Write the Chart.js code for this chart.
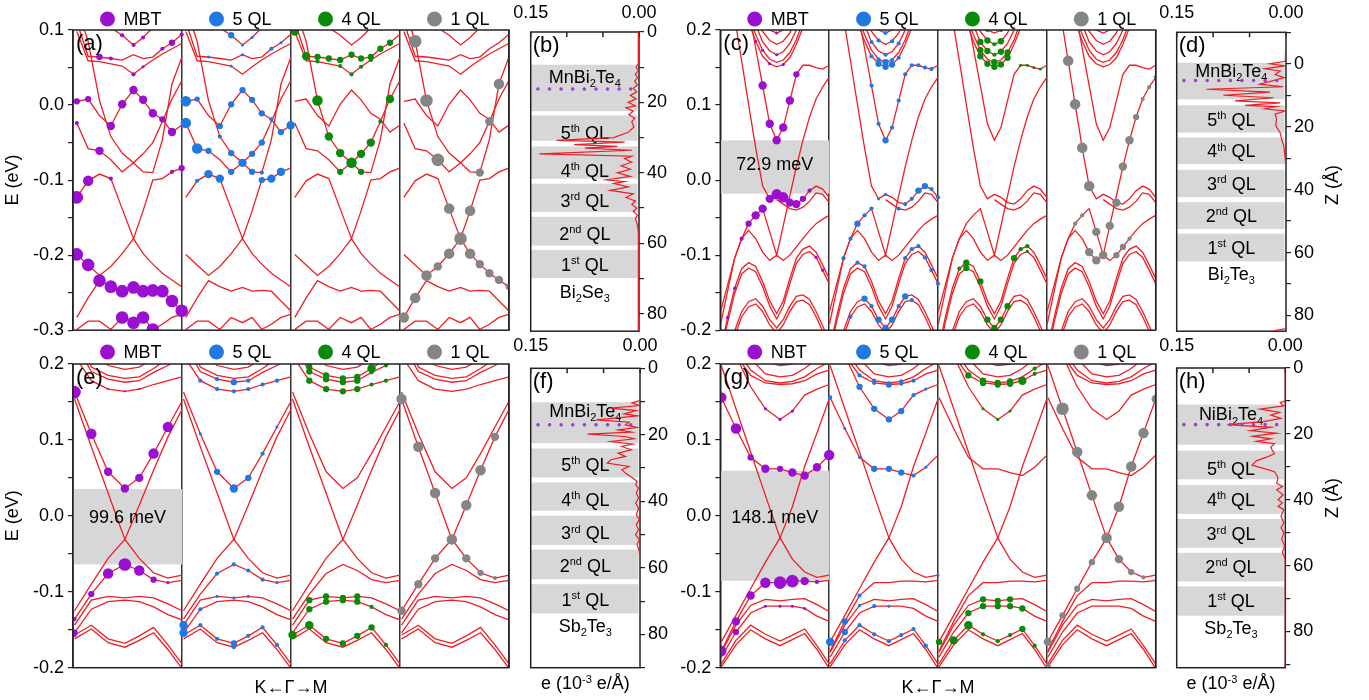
<!DOCTYPE html>
<html lang="en">
<head>
<meta charset="UTF-8">
<title>Band structures and charge density</title>
<script src="https://cdn.jsdelivr.net/npm/chart.js"></script>
<style>
  body { margin: 0; background: #fff; }
  #fig { position: relative; width: 1369px; height: 700px; overflow: hidden; }
  #fig canvas { position: absolute; }
</style>
</head>
<body>
<div id="fig"></div>
<script>
// ---------- legends
const legendTop = ['MBT', '5 QL', '4 QL', '1 QL'];
const legendG = ['NBT', '5 QL', '4 QL', '1 QL'];

// ---------- (a) : k positions along K<-G->M inside one sub-column, bands (eV), projections [band, k, weight]
const kA = [0.035, 0.139, 0.243, 0.347, 0.451, 0.555, 0.643, 0.732, 0.820, 0.908, 0.997];
const bandsA = [
  [0.190, 0.155, 0.129, 0.103, 0.093, 0.080, 0.090, 0.103, 0.120, 0.142, 0.164],
  [0.111, 0.065, 0.064, 0.062, 0.060, 0.067, 0.062, 0.064, 0.075, 0.083, 0.094],
  [0.098, 0.059, 0.058, 0.055, 0.052, 0.041, 0.051, 0.060, 0.068, 0.075, 0.082],
  [0.005, 0.008, -0.014, -0.028, 0.001, 0.020, 0.007, -0.011, -0.019, -0.036, -0.027],
  [0.130, 0.085, 0.006, -0.042, -0.064, -0.077, -0.065, -0.050, -0.022, 0.008, 0.032],
  [-0.024, -0.058, -0.061, -0.073, -0.089, -0.077, -0.089, -0.090, -0.046, 0.028, 0.063],
  [-0.123, -0.101, -0.092, -0.098, -0.138, -0.178, -0.141, -0.100, -0.098, -0.089, -0.084],
  [-0.199, -0.213, -0.227, -0.215, -0.198, -0.178, -0.198, -0.212, -0.224, -0.233, -0.242],
  [-0.283, -0.257, -0.234, -0.242, -0.248, -0.243, -0.248, -0.247, -0.248, -0.261, -0.274],
  [-0.299, -0.288, -0.288, -0.299, -0.283, -0.290, -0.283, -0.299, -0.292, -0.283, -0.279]
];
const dotsA_MBT = [[0,4,2],[0,5,2],[0,6,2],[1,2,3],[1,3,2],[1,8,2],[1,9,3],[1,10,2],[2,5,2],[2,6,1.5],[3,0,3],[3,1,3],[3,3,4],[3,4,4],[3,5,4],[3,6,4],[3,7,4],[3,8,3],[3,9,4],[5,0,2],[5,2,4],[6,3,2],[6,9,2],[6,10,3],[6,0,6],[6,1,5],[7,0,6],[7,1,6],[8,2,6],[8,3,6],[8,4,6],[8,5,6],[8,6,6],[8,7,6],[8,8,6],[8,9,6],[8,10,6],[9,4,6],[9,5,6],[9,6,6],[9,7,6]];
const dotsA_5QL = [[0,4,3],[0,5,1.5],[0,6,1.5],[1,2,1.5],[1,5,1.5],[1,8,2],[1,9,1.5],[2,4,1.5],[3,0,5],[3,1,2.5],[3,3,3],[3,4,3],[3,5,3],[3,6,3],[3,7,3],[3,8,2],[3,9,3],[3,10,4],[5,0,5],[5,1,5],[5,2,3],[4,3,2],[4,4,3],[4,5,4],[4,6,3],[4,7,3],[5,4,3],[5,6,3],[5,7,2],[6,1,2],[6,2,4],[6,3,4],[6,7,3],[6,8,4],[6,9,4]];
const dotsA_4QL = [[2,0,4],[1,1,4],[1,2,3],[1,3,3],[1,4,3],[1,5,3],[1,6,3],[1,7,3],[1,8,3],[1,9,3],[2,2,2],[2,4,2],[2,5,2],[2,6,2],[2,7,2],[4,2,5],[4,3,4],[4,4,4],[4,5,5],[4,6,4],[4,7,4],[4,8,2],[4,9,4],[5,4,3],[5,6,3]];
const dotsA_1QL = [[4,1,6],[4,2,6],[5,3,6],[6,4,5],[6,5,6],[6,6,5],[7,4,5],[7,3,4],[7,2,5],[8,1,5],[8,0,5],[7,6,5],[7,7,4],[7,8,4],[7,9,4],[7,10,3],[5,7,4],[4,8,4],[5,9,5]];

// ---------- (c)
const kC = [0.003, 0.067, 0.132, 0.196, 0.260, 0.325, 0.389, 0.454, 0.518, 0.578, 0.639, 0.699, 0.759, 0.820, 0.880, 0.940, 1.000];
const bandsC = [
  [0.428, 0.378, 0.328, 0.277, 0.227, 0.176, 0.126, 0.075, 0.053, 0.070, 0.106, 0.141, 0.153, 0.153, 0.150, 0.148, 0.153],
  [0.356, 0.317, 0.277, 0.242, 0.211, 0.185, 0.165, 0.155, 0.151, 0.154, 0.163, 0.181, 0.203, 0.229, 0.260, 0.295, 0.334],
  [0.378, 0.334, 0.290, 0.251, 0.220, 0.194, 0.173, 0.161, 0.157, 0.160, 0.170, 0.187, 0.211, 0.240, 0.273, 0.308, 0.347],
  [0.400, 0.356, 0.312, 0.268, 0.233, 0.207, 0.184, 0.172, 0.167, 0.171, 0.182, 0.200, 0.225, 0.255, 0.290, 0.330, 0.369],
  [0.422, 0.378, 0.334, 0.290, 0.251, 0.220, 0.198, 0.186, 0.181, 0.185, 0.196, 0.216, 0.247, 0.282, 0.317, 0.356, 0.396],
  [0.444, 0.400, 0.356, 0.312, 0.273, 0.238, 0.214, 0.200, 0.196, 0.200, 0.211, 0.233, 0.264, 0.299, 0.334, 0.374, 0.413],
  [0.332, 0.274, 0.216, 0.159, 0.101, 0.043, -0.008, -0.025, -0.019, -0.023, -0.030, -0.032, -0.025, -0.014, -0.008, -0.012, -0.023],
  [null, null, null, null, null, null, null, null, -0.026, -0.032, -0.038, -0.040, -0.036, -0.028, -0.017, -0.019, -0.030],
  [-0.175, -0.140, -0.104, -0.078, -0.058, -0.047, -0.038, -0.069, -0.100, -0.061, -0.021, 0.018, 0.053, 0.084, 0.108, 0.124, 0.137],
  [-0.192, -0.148, -0.104, -0.078, -0.067, -0.078, -0.096, -0.107, -0.100, -0.107, -0.100, -0.089, -0.078, -0.067, -0.058, -0.052, -0.047],
  [-0.227, -0.183, -0.144, -0.118, -0.110, -0.115, -0.135, -0.161, -0.178, -0.161, -0.131, -0.104, -0.092, -0.088, -0.096, -0.113, -0.131],
  [-0.234, -0.190, -0.151, -0.125, -0.117, -0.122, -0.142, -0.168, -0.185, -0.168, -0.138, -0.111, -0.099, -0.095, -0.103, -0.120, -0.138],
  [-0.280, -0.236, -0.201, -0.175, -0.162, -0.158, -0.168, -0.186, -0.197, -0.186, -0.168, -0.155, -0.153, -0.159, -0.175, -0.194, -0.214],
  [-0.287, -0.243, -0.208, -0.182, -0.169, -0.165, -0.175, -0.193, -0.204, -0.193, -0.175, -0.162, -0.160, -0.166, -0.182, -0.201, -0.221]
];
const dotsC_MBT = [[0,6,4],[0,7,4],[0,8,4],[0,9,4],[0,10,4],[0,11,3],[6,7,4],[6,8,5],[6,9,5],[6,10,4],[6,11,4],[6,12,3],[6,13,2],[8,6,4],[8,5,4],[8,4,3],[8,3,2],[1,5,1.5],[1,7,1.5],[1,9,1.5],[3,8,1.5],[5,8,1.5],[2,6,1.5],[10,1,1.5],[10,2,1.5],[12,2,1.5],[11,14,1.5],[11,15,1.5]];
const dotsC_5QL = [[1,6,2],[1,7,3],[1,8,3],[1,9,3],[1,10,2],[2,7,2],[2,8,3],[2,9,2],[3,6,2],[3,8,2],[3,10,2],[4,7,2],[4,9,2],[5,8,2],[0,6,2],[0,7,2],[0,8,3],[0,9,2],[0,10,2],[0,11,2],[0,12,2],[0,13,2],[0,14,2],[0,15,2],[6,7,1.5],[6,8,1.5],[6,11,2],[6,12,2],[6,13,3],[6,14,3],[6,15,2],[6,16,2],[7,10,2],[8,2,2],[8,3,2],[8,4,3],[8,5,2],[8,6,2],[10,4,2],[10,5,2],[10,11,2],[10,12,2],[10,13,2],[11,14,2],[11,15,2],[11,16,2],[12,5,3],[12,6,2],[12,7,3],[12,8,3],[12,9,3],[12,10,2],[12,11,3],[13,12,2],[13,2,1.5],[13,3,2]];
const dotsC_4QL = [[1,6,3],[1,7,3],[1,8,3],[1,9,3],[1,10,3],[2,6,3],[2,8,3],[2,10,3],[3,6,3],[3,7,3],[3,8,2],[3,9,3],[4,7,3],[4,8,2],[4,9,3],[5,7,2],[5,9,2],[0,12,1.5],[0,13,1.5],[0,14,1.5],[0,15,1.5],[10,3,2],[10,4,3],[11,4,3],[10,6,3],[12,7,3],[12,8,3],[12,9,3],[12,10,3],[10,11,3],[10,12,2],[10,13,2],[11,13,1.5],[13,1,1.5],[13,2,1.5]];
const dotsC_1QL = [[6,3,5],[6,4,5],[6,5,5],[6,6,5],[6,10,4],[8,11,4],[8,12,4],[8,13,3],[8,14,2],[8,15,2],[8,16,2],[8,7,4],[8,8,4],[8,9,4],[9,6,4],[9,7,4],[9,10,3],[9,11,3],[9,12,2],[8,4,2],[8,5,2]];

// ---------- (e)
const kE = [0.014, 0.168, 0.322, 0.476, 0.608, 0.739, 0.871, 1.000];
const bandsE = [
  [0.163, 0.108, 0.058, 0.036, 0.050, 0.082, 0.117, 0.151],
  [0.154, 0.091, 0.030, -0.031, 0.014, 0.060, 0.104, 0.140],
  [-0.125, -0.090, -0.056, -0.031, -0.056, -0.075, -0.082, -0.078],
  [-0.136, -0.103, -0.076, -0.064, -0.072, -0.084, -0.088, -0.085],
  [-0.144, -0.111, -0.106, -0.108, -0.106, -0.108, -0.116, -0.125],
  [-0.154, -0.123, -0.113, -0.111, -0.113, -0.120, -0.130, -0.137],
  [-0.157, -0.144, -0.162, -0.168, -0.158, -0.147, -0.170, -0.195],
  [-0.162, -0.149, -0.167, -0.173, -0.164, -0.154, -0.176, -0.201],
  [0.211, 0.178, 0.167, 0.164, 0.167, 0.173, 0.178, 0.183],
  [0.229, 0.190, 0.180, 0.176, 0.178, 0.189, 0.198, 0.211],
  [0.255, 0.196, 0.185, 0.181, 0.183, 0.194, 0.207, 0.225],
  [0.290, 0.220, 0.198, 0.193, 0.196, 0.207, 0.229, 0.255],
  [0.334, 0.247, 0.207, 0.201, 0.205, 0.225, 0.255, 0.290]
];
const dotsE_MBT = [[0,0,6],[0,1,5],[0,2,4],[0,3,4],[0,4,4],[0,5,5],[0,6,5],[3,0,2],[3,1,3],[3,2,5],[3,3,6],[3,4,5],[3,5,3],[3,6,1.5],[5,0,3],[8,2,1],[8,3,1],[8,4,1],[6,0,2]];
const dotsE_5QL = [[8,1,2],[8,2,2],[8,3,2],[8,4,2],[8,5,2],[8,6,2],[9,2,2],[9,3,3],[9,4,2],[0,1,1.5],[0,2,3],[0,3,4],[0,4,3],[0,5,2],[0,6,1.5],[3,2,2],[3,3,2],[3,4,2],[3,5,2],[3,6,1.5],[4,0,4],[5,0,4],[5,1,2],[4,2,1.5],[4,3,1.5],[4,4,1.5],[6,1,2],[6,2,2],[6,3,3],[6,4,2],[6,5,2],[6,6,2],[7,3,2]];
const dotsE_4QL = [[10,1,3],[10,2,3],[10,3,3],[10,4,3],[10,5,4],[9,1,3],[9,2,3],[9,3,3],[9,4,3],[9,5,2],[9,6,2],[8,1,3],[8,2,3],[8,3,3],[8,4,3],[8,5,2],[8,6,2],[4,1,3],[4,2,3],[4,3,3],[4,4,3],[5,1,3],[5,2,3],[5,3,3],[5,4,3],[5,5,2],[6,1,4],[6,2,3],[6,3,3],[6,4,3],[6,5,3],[6,6,2],[6,0,4]];
const dotsE_1QL = [[1,0,5],[1,1,5],[1,2,5],[1,3,5],[1,4,5],[1,5,5],[1,6,4],[2,0,4],[2,1,4],[2,2,4],[2,4,4],[2,5,3],[2,6,2],[3,7,1.5]];

// ---------- (g)
const kG = [0.009, 0.144, 0.279, 0.414, 0.549, 0.662, 0.775, 0.888, 1.000];
const bandsG = [
  [0.156, 0.115, 0.077, 0.062, 0.062, 0.057, 0.053, 0.064, 0.080],
  [0.198, 0.141, 0.084, 0.027, -0.029, 0.012, 0.065, 0.109, 0.154],
  [-0.166, -0.131, -0.096, -0.061, -0.029, -0.057, -0.074, -0.081, -0.078],
  [-0.178, -0.139, -0.105, -0.088, -0.088, -0.086, -0.086, -0.087, -0.085],
  [-0.180, -0.144, -0.118, -0.110, -0.112, -0.110, -0.109, -0.117, -0.126],
  [-0.186, -0.153, -0.128, -0.119, -0.119, -0.119, -0.122, -0.132, -0.139],
  [-0.195, -0.164, -0.144, -0.156, -0.165, -0.157, -0.149, -0.171, -0.195],
  [-0.199, -0.170, -0.150, -0.162, -0.171, -0.163, -0.155, -0.176, -0.201],
  [0.268, 0.211, 0.170, 0.141, 0.127, 0.138, 0.159, 0.167, 0.173],
  [0.247, 0.211, 0.185, 0.175, 0.173, 0.174, 0.178, 0.187, 0.192],
  [0.255, 0.220, 0.192, 0.178, 0.175, 0.177, 0.183, 0.194, 0.203],
  [0.290, 0.247, 0.207, 0.187, 0.183, 0.185, 0.194, 0.207, 0.220],
  [0.334, 0.290, 0.229, 0.203, 0.198, 0.200, 0.211, 0.229, 0.247]
];
const dotsG_NBT = [[0,0,5],[0,1,5],[0,2,3],[0,3,4],[0,4,3],[0,5,4],[0,6,4],[0,7,4],[0,8,5],[3,0,5],[3,1,4],[5,1,3],[3,2,4],[3,3,5],[3,4,6],[3,5,6],[3,6,4],[3,7,2],[8,3,1.5],[8,4,1.5],[8,5,1.5],[5,3,1.5],[5,4,1.5],[5,5,1.5],[5,6,1.5]];
const dotsG_5QL = [[9,1,2],[9,2,2],[9,3,2],[9,4,3],[9,5,2],[9,6,2],[10,3,2],[10,5,2],[8,2,3],[8,3,3],[8,4,3],[8,5,3],[8,6,2],[8,7,1.5],[0,0,2],[0,1,1.5],[0,2,1.5],[0,3,3],[0,4,3],[0,5,3],[0,6,2],[0,7,1.5],[3,1,3],[5,1,3],[2,0,4],[3,2,2],[5,3,2],[5,4,1.5],[6,2,2],[6,3,2],[6,4,2],[6,5,2],[6,6,2],[6,7,2],[6,1,2],[4,2,1.5],[2,8,1.5]];
const dotsG_4QL = [[11,2,4],[9,2,3],[9,3,3],[9,4,3],[9,5,3],[9,6,4],[10,3,3],[10,4,3],[10,5,3],[9,7,2],[10,7,2],[8,3,1.5],[8,4,1.5],[8,5,1.5],[4,3,3],[4,4,3],[4,5,3],[5,2,3],[5,3,3],[5,4,3],[5,5,3],[5,6,3],[6,2,4],[6,3,2],[6,4,2],[6,5,2],[6,6,3],[6,7,2],[6,1,4],[2,0,3]];
const dotsG_1QL = [[1,1,6],[1,2,5],[1,3,5],[1,4,5],[1,5,5],[1,6,5],[1,7,5],[1,8,4],[2,3,3],[2,2,3],[2,1,3],[2,0,4],[2,5,4],[2,6,3],[2,7,2],[3,8,1.5],[7,0,3]];

// gaps: [top E, bottom E], label, label E
const gapC = [0.053, -0.018], gapTextC = '72.9 meV', gapTextEC = 0.02;
const gapE = [0.0353, -0.064], gapTextE = '99.6 meV', gapTextEE = -0.0025;
const gapG = [0.0595, -0.0855], gapTextG = '148.1 meV', gapTextEG = -0.003;

// ---------- side panels: Z (Å) and planar charge e (10^-3 e/Å)
const zB = [0,9,10,11,12,13,14,15,16,17,18,19,20,21,21.5,22.5,23.5,24.5,25.5,27,28.5,30,30.8,31.3,32,32.5,33,33.6,34.6,35.3,36,37,38,39,40,41,42,42.5,43,44,45,46,47,48,49,50,51,52,53,55,57,85];
const dB = [0.0005,0.001,0.004,0.001,0.005,0.002,0.006,0.002,0.008,0.003,0.012,0.004,0.015,0.005,0.018,0.008,0.014,0.006,0.010,0.007,0.015,0.035,0.114,0.020,0.090,0.030,0.075,0.010,0.138,0.010,0.020,0.010,0.025,0.012,0.030,0.012,0.045,0.020,0.035,0.015,0.040,0.008,0.018,0.005,0.010,0.003,0.008,0.002,0.005,0.002,0.001,0.001];
const zD = [-10,-0.8,0,0.7,1.6,2.3,3.4,4.4,5.5,6.5,7.3,8.1,9.0,10.0,10.8,11.8,12.4,13.2,13.6,14.3,15,16,17.6,19.7,21.9,24,26.1,29.3,32.4,84.2,84.9];
const dD = [0,0.001,0.022,0.002,0.029,0.008,0.015,0.002,0.02,0.036,0.004,0.109,0.022,0.086,0.017,0.070,0.008,0.056,0.013,0.029,0.001,0.015,0.013,0.014,0.008,0.006,0.003,0.0015,0.0005,0.0005,0.017];
const zF = [0,9.7,10.4,11.2,12,12.7,13.7,14.3,15.5,16.2,17,17.8,18.5,19.2,19.8,20.5,21.2,22,22.8,23.5,24.5,25.5,26.5,27.5,28.5,29.5,30.5,31.5,33,34,35,36,37.5,39,40.5,42,44,45.5,47,48.5,50,51.5,53,55,58,90];
const dF = [0,0,0.011,0.001,0.04,0.005,0.022,0.003,0.06,0.015,0.02,0.004,0.03,0.012,0.072,0.02,0.008,0.04,0.01,0.025,0.012,0.03,0.02,0.04,0.045,0.015,0.025,0.02,0.01,0.004,0.006,0.002,0.005,0.002,0.006,0.002,0.005,0.001,0.005,0.002,0.006,0.001,0.004,0.001,0,0];
const zH = [0,10,10.5,11.5,12.5,13.5,14.3,15.3,16.3,17.2,18,19,19.8,20.7,21.5,22.3,23,24,25,26,27,28.2,29.5,30.5,31.5,32.5,33.5,35,36,37,38.5,40,41,42,43,45,47,48.5,50,52,54,56,58,91];
const dH = [0,0,0.007,0.002,0.035,0.008,0.02,0.006,0.03,0.08,0.02,0.048,0.012,0.045,0.02,0.04,0.015,0.02,0.018,0.015,0.025,0.04,0.046,0.03,0.015,0.012,0.01,0.012,0.004,0.012,0.003,0.01,0.004,0.01,0.002,0.006,0.002,0.006,0.002,0.005,0.001,0.004,0,0];
const sideTopTicks = [0.15, 0];   // labelled ticks of the top axis

// layer boxes (Z from-to), top layer then 5th..1st QL
const boxesB = [[9.3,22.5],[23.7,30.9],[32.5,41.7],[43.1,51.1],[52.5,60.7],[61.9,69.9]];
const boxesD = [[-0.3,11.3],[13.2,21.9],[23.4,31.9],[33.7,42.4],[44,52.5],[54,62.8]];
const boxesF = [[10.2,22.5],[24.1,32.8],[34.3,42.8],[44.3,53.1],[54.5,63.4],[64.9,73.7]];
const boxesH = [[11.1,23.3],[25.1,33.8],[35.5,44.3],[45.8,54.6],[56.1,64.8],[66.3,75.2]];
// label Z: top layer, 5th..1st QL, substrate
const labelZB = [12.6, 28.5, 39.3, 47.8, 57.2, 66.1, 73.6];
const labelZD = [2, 17.6, 27.7, 38, 48.3, 58.3, 66.7];
const labelZF = [12.7, 28.8, 39.3, 49.5, 59.3, 69.4, 77.2];
const labelZH = [13.9, 30.4, 39.9, 50.4, 60.2, 70.6, 78.7];
const magZ = [16.2, 5.3, 17.0, 17.2];   // dotted magnetic-atom plane
const qlOrd = [['5','th'],['4','th'],['3','rd'],['2','nd'],['1','st']];
const layerMn = [['MnBi',''],['2','sub'],['Te',''],['4','sub']];
const layerNi = [['NiBi',''],['2','sub'],['Te',''],['4','sub']];
const subBiSe = [['Bi',''],['2','sub'],['Se',''],['3','sub']];
const subBiTe = [['Bi',''],['2','sub'],['Te',''],['3','sub']];
const subSbTe = [['Sb',''],['2','sub'],['Te',''],['3','sub']];

// ---------- look
const FONT = '"Liberation Sans", Arial, sans-serif';
const RED = 'rgb(238,30,36)';
const GRAY = '#d7d7d7';
const projColors = ['#9a0fd0', '#1f78e3', '#0a8a0a', '#858585'];
const DOT_PX = 1.05;
Chart.defaults.font.family = FONT;
Chart.defaults.color = '#000';

function mk(l) {
  const c = document.createElement('canvas');
  c.width = l.w; c.height = l.h;
  c.style.left = l.left + 'px'; c.style.top = l.top + 'px';
  c.style.width = l.w + 'px'; c.style.height = l.h + 'px';
  document.getElementById('fig').appendChild(c);
  return c;
}

function drawRich(ctx, segs, x, y, size) {
  const small = Math.round(size * 0.62);
  let w = 0;
  segs.forEach(([t, k]) => { ctx.font = (k ? small : size) + 'px ' + FONT; w += ctx.measureText(t).width; });
  let cx = x - w / 2;
  ctx.textAlign = 'left'; ctx.textBaseline = 'alphabetic';
  const base = y + size * 0.36;
  segs.forEach(([t, k]) => {
    ctx.font = (k ? small : size) + 'px ' + FONT;
    const dy = k === 'sub' ? size * 0.24 : k === 'sup' ? -size * 0.38 : 0;
    ctx.fillText(t, cx, base + dy);
    cx += ctx.measureText(t).width;
  });
}

// ---------- band panels
function bandChart(p, l) {
  const ds = [];
  for (let j = 0; j < 4; j++) {
    p.bands.forEach(b => {
      ds.push({
        type: 'line', order: 1,
        data: b.map((e, i) => ({x: j + p.k[i], y: e})).filter(q => q.y !== null),
        borderColor: RED, borderWidth: 1.3, pointRadius: 0, tension: 0, fill: false
      });
    });
    ds.push({
      type: 'scatter', order: 0,
      data: p.dots[j].map(([b, i, w]) => ({x: j + p.k[i], y: p.bands[b][i], w})),
      pointRadius: c => c.raw ? c.raw.w * DOT_PX : 0,
      pointBackgroundColor: projColors[j], pointBorderWidth: 0, pointHoverRadius: 0
    });
  }
  const deco = {
    id: 'bandDeco',
    beforeDatasetsDraw(chart) {
      const {ctx, scales: {x, y}} = chart;
      if (!p.gap) return;
      ctx.save();
      ctx.fillStyle = GRAY;
      const x0 = x.getPixelForValue(0), x1 = x.getPixelForValue(1);
      const y0 = y.getPixelForValue(p.gap[0]), y1 = y.getPixelForValue(p.gap[1]);
      ctx.fillRect(x0, y0, x1 - x0, y1 - y0);
      ctx.restore();
    },
    afterDatasetsDraw(chart) {
      const {ctx, chartArea: a, scales: {x, y}} = chart;
      ctx.save();
      ctx.strokeStyle = '#222'; ctx.lineWidth = 1.5;
      ctx.strokeRect(a.left, a.top, a.right - a.left, a.bottom - a.top);
      ctx.fillStyle = '#000';
      ctx.font = '22px ' + FONT; ctx.textAlign = 'left'; ctx.textBaseline = 'top';
      ctx.fillText(p.letter, a.left + 3, a.top + 3);
      ctx.font = '18px ' + FONT;
      if (p.gap) {
        ctx.textAlign = 'center'; ctx.textBaseline = 'middle';
        ctx.fillText(p.gapText, x.getPixelForValue(0.5), y.getPixelForValue(p.gapTextE));
      }
      p.legend.forEach((name, j) => {
        const cx = x.getPixelForValue(j + 0.5) - 20;
        ctx.beginPath(); ctx.arc(cx, l.legendY, 7.5, 0, Math.PI * 2);
        ctx.fillStyle = projColors[j]; ctx.fill();
        ctx.fillStyle = '#000'; ctx.textAlign = 'left'; ctx.textBaseline = 'middle';
        ctx.fillText(name, cx + 16, l.legendY + 1);
      });
      if (l.xTitle) {
        ctx.textAlign = 'center'; ctx.textBaseline = 'middle';
        ctx.fillText(l.xTitle, (a.left + a.right) / 2, l.xTitleY);
      }
      ctx.restore();
    }
  };
  new Chart(mk(l), {
    type: 'line',
    data: {datasets: ds},
    options: {
      responsive: false, animation: false, events: [], devicePixelRatio: 1,
      layout: {padding: l.pad},
      plugins: {legend: {display: false}, tooltip: {enabled: false}},
      scales: {
        x: {
          type: 'linear', min: 0, max: 4,
          afterFit: s => { s.height = 0; },
          ticks: {display: false, stepSize: 1},
          grid: {color: '#333', lineWidth: 1.5, drawTicks: false},
          border: {display: false}
        },
        y: {
          type: 'linear', min: p.yMin, max: p.yMax,
          afterFit: s => { s.width = l.leftW; },
          ticks: {
            stepSize: 0.05, padding: 4, font: {size: 18}, color: '#000',
            callback: v => { const t = Math.round(v * 100); return t % 10 === 0 ? (t === 0 ? '0.0' : (t / 100).toFixed(1)) : ''; }
          },
          grid: {drawOnChartArea: false, tickLength: 5, color: '#222', lineWidth: 1.2},
          border: {display: false},
          title: l.yTitle ? {display: true, text: l.yTitle, font: {size: 18}, color: '#000', padding: {top: 2, bottom: 0}} : {display: false}
        }
      }
    },
    plugins: [deco]
  });
}

// ---------- charge-density side panels
function sideChart(p, l) {
  const deco = {
    id: 'sideDeco',
    beforeDatasetsDraw(chart) {
      const {ctx, chartArea: a, scales: {x, y}} = chart;
      ctx.save();
      ctx.fillStyle = GRAY;
      const xl = x.getPixelForValue(0.15), xr = x.getPixelForValue(0.002);
      p.boxes.forEach(([z0, z1]) => {
        const y0 = y.getPixelForValue(z0), y1 = y.getPixelForValue(z1);
        ctx.fillRect(xl, y0, xr - xl, y1 - y0);
      });
      ctx.fillStyle = '#000';
      const xc = x.getPixelForValue(0.075);
      const labels = [p.layer, ...qlOrd.map(([n, s]) => [[n, ''], [s, 'sup'], [' QL', '']]), p.substrate];
      labels.forEach((segs, i) => drawRich(ctx, segs, xc, y.getPixelForValue(p.labelZ[i]), 18));
      ctx.strokeStyle = '#222'; ctx.lineWidth = 1.5;
      ctx.strokeRect(a.left, a.top, a.right - a.left, a.bottom - a.top);
      x.ticks.forEach(t => {
        const px = x.getPixelForValue(t.value);
        ctx.beginPath(); ctx.moveTo(px, a.top); ctx.lineTo(px, a.top + 5); ctx.stroke();
      });
      ctx.restore();
    },
    afterDatasetsDraw(chart) {
      const {ctx, chartArea: a, scales: {x}} = chart;
      ctx.save();
      ctx.fillStyle = '#000';
      ctx.font = '22px ' + FONT; ctx.textAlign = 'left'; ctx.textBaseline = 'top';
      ctx.fillText(p.letter, a.left + 2, a.top + 3);
      ctx.font = '18px ' + FONT; ctx.textAlign = 'center'; ctx.textBaseline = 'middle';
      sideTopTicks.forEach(v => ctx.fillText(v.toFixed(2), x.getPixelForValue(v), l.topLabelY));
      if (l.xTitleY) drawRich(ctx, [['e (10', ''], ['-3', 'sup'], [' e/Å)', '']], (a.left + a.right) / 2, l.xTitleY, 18);
      if (l.zTitleX) {
        ctx.translate(l.zTitleX, l.zTitleY); ctx.rotate(-Math.PI / 2);
        ctx.font = '18px ' + FONT; ctx.textAlign = 'center'; ctx.textBaseline = 'middle';
        ctx.fillText('Z (Å)', 0, 0);
      }
      ctx.restore();
    }
  };
  new Chart(mk(l), {
    type: 'line',
    data: {datasets: [
      {data: p.z.map((z, i) => ({x: p.d[i], y: z})), borderColor: RED, borderWidth: 1.2, pointRadius: 0, tension: 0, order: 1},
      {data: [{x: 0.14, y: p.magZ}, {x: 0.004, y: p.magZ}], borderColor: '#a33bd9', borderWidth: 3.6,
       borderDash: [0, 11.6], borderCapStyle: 'round', pointRadius: 0, order: 0}
    ]},
    options: {
      responsive: false, animation: false, events: [], devicePixelRatio: 1,
      layout: {padding: l.pad},
      plugins: {legend: {display: false}, tooltip: {enabled: false}},
      scales: {
        x: {
          type: 'linear', position: 'top', min: 0, max: 0.15, reverse: true,
          afterFit: s => { s.height = l.topH; },
          grid: {display: false, drawTicks: false}, border: {display: false},
          ticks: {display: false, stepSize: 0.05}
        },
        y: {
          type: 'linear', position: 'right', min: p.zMin, max: p.zMax, reverse: true,
          afterFit: s => { s.width = l.rightW; },
          // ticks every 10 Å inside the range (the built-in generator drops 80 next to the odd max)
          afterBuildTicks: s => {
            const t = [];
            for (let v = Math.ceil(p.zMin / 10) * 10; v <= p.zMax; v += 10) t.push({value: v});
            s.ticks = t;
          },
          grid: {drawOnChartArea: false, tickLength: 5, color: '#222', lineWidth: 1.2}, border: {display: false},
          ticks: {padding: 3, font: {size: 18}, color: '#000', autoSkip: false,
                  callback: v => (Math.round(v) % 20 === 0 ? String(Math.round(v)) : '')}
        }
      }
    },
    plugins: [deco]
  });
}

// ---------- layout (canvas boxes, padding chosen so plot areas line up)
const layA = {left: 0, top: 0, w: 520, h: 345, pad: {left: 0, right: 11, top: 30, bottom: 11}, leftW: 73, yTitle: 'E (eV)', legendY: 19};
const layC = {left: 660, top: 0, w: 520, h: 345, pad: {left: 0, right: 24.3, top: 30, bottom: 11}, leftW: 60.3, legendY: 19};
const layE = {left: 0, top: 335, w: 520, h: 365, pad: {left: 0, right: 11, top: 29, bottom: 32.3}, leftW: 73, yTitle: 'E (eV)', legendY: 17, xTitle: 'K←Γ→M', xTitleY: 353};
const layG = {left: 660, top: 335, w: 520, h: 365, pad: {left: 0, right: 24.3, top: 29, bottom: 32.3}, leftW: 60.3, legendY: 17, xTitle: 'K←Γ→M', xTitleY: 353};
const layB = {left: 505, top: 0, w: 165, h: 345, pad: {left: 25.7, right: 0, top: 0, bottom: 12}, topH: 32, rightW: 31, topLabelY: 13};
const layD = {left: 1150, top: 0, w: 219, h: 345, pad: {left: 26.7, right: 0, top: 0, bottom: 12}, topH: 32.3, rightW: 83, topLabelY: 13, zTitleX: 183, zTitleY: 185};
const layF = {left: 505, top: 335, w: 165, h: 365, pad: {left: 25.7, right: 0, top: 0, bottom: 32.3}, topH: 33.3, rightW: 30, topLabelY: 11, xTitleY: 348};
const layH = {left: 1150, top: 335, w: 219, h: 365, pad: {left: 26.7, right: 0, top: 0, bottom: 32.3}, topH: 33, rightW: 83.7, topLabelY: 11, xTitleY: 348, zTitleX: 183, zTitleY: 163};

bandChart({letter: '(a)', k: kA, bands: bandsA, dots: [dotsA_MBT, dotsA_5QL, dotsA_4QL, dotsA_1QL], legend: legendTop, yMin: -0.3, yMax: 0.1}, layA);
bandChart({letter: '(c)', k: kC, bands: bandsC, dots: [dotsC_MBT, dotsC_5QL, dotsC_4QL, dotsC_1QL], legend: legendTop, yMin: -0.2, yMax: 0.2,
           gap: gapC, gapText: gapTextC, gapTextE: gapTextEC}, layC);
bandChart({letter: '(e)', k: kE, bands: bandsE, dots: [dotsE_MBT, dotsE_5QL, dotsE_4QL, dotsE_1QL], legend: legendTop, yMin: -0.2, yMax: 0.2,
           gap: gapE, gapText: gapTextE, gapTextE: gapTextEE}, layE);
bandChart({letter: '(g)', k: kG, bands: bandsG, dots: [dotsG_NBT, dotsG_5QL, dotsG_4QL, dotsG_1QL], legend: legendG, yMin: -0.2, yMax: 0.2,
           gap: gapG, gapText: gapTextG, gapTextE: gapTextEG}, layG);

sideChart({letter: '(b)', z: zB, d: dB, boxes: boxesB, labelZ: labelZB, layer: layerMn, substrate: subBiSe, magZ: magZ[0], zMin: 0, zMax: 85}, layB);
sideChart({letter: '(d)', z: zD, d: dD, boxes: boxesD, labelZ: labelZD, layer: layerMn, substrate: subBiTe, magZ: magZ[1], zMin: -10, zMax: 85}, layD);
sideChart({letter: '(f)', z: zF, d: dF, boxes: boxesF, labelZ: labelZF, layer: layerMn, substrate: subSbTe, magZ: magZ[2], zMin: 0, zMax: 90}, layF);
sideChart({letter: '(h)', z: zH, d: dH, boxes: boxesH, labelZ: labelZH, layer: layerNi, substrate: subSbTe, magZ: magZ[3], zMin: 0, zMax: 91}, layH);
</script>
</body>
</html>
